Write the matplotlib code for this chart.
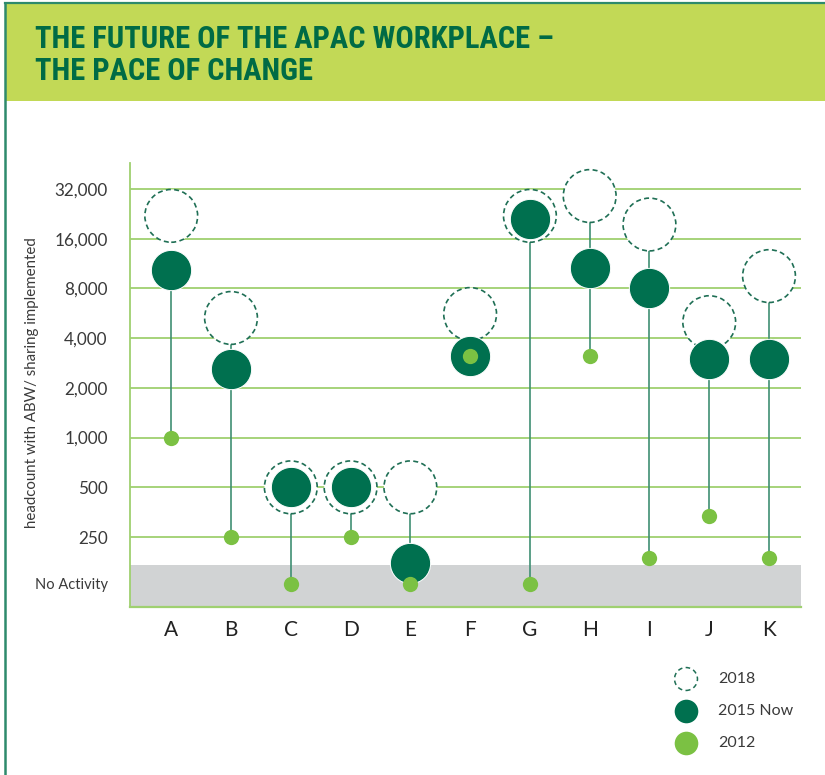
import matplotlib
matplotlib.use("Agg")
import matplotlib.pyplot as plt
from matplotlib.lines import Line2D
from matplotlib.patches import Rectangle
from matplotlib import font_manager
from matplotlib.font_manager import FontProperties

# ---- data ----
categories = ["A", "B", "C", "D", "E", "F", "G", "H", "I", "J", "K"]
# 0 means "No Activity"
values_2018 = [22000, 5300, 500, 500, 500, 5600, 22000, 29000, 19500, 5000, 9500]
values_2015 = [10300, 2600, 500, 500, 175, 3100, 21000, 10600, 8000, 3000, 3000]
values_2012 = [1000, 250, 0, 250, 0, 3100, 0, 3100, 187, 337, 187]
stem_to_2018 = [False, True, True, True, True, True, True, True, True, True, True]
tick_values = [250, 500, 1000, 2000, 4000, 8000, 16000, 32000]
tick_labels = ["250", "500", "1,000", "2,000", "4,000", "8,000", "16,000", "32,000"]
no_activity_label = "No Activity"
y_label = "headcount with ABW/ sharing implemented"
title_lines = ["THE FUTURE OF THE APAC WORKPLACE \u2013", "THE PACE OF CHANGE"]
legend_labels = ["2018", "2015 Now", "2012"]

# ---- style ----
DARK = "#00704f"
LIGHT = "#7bc143"
DASH = "#1f6f55"
GRID = "#9fd070"
HEADER = "#c2d956"
TITLE_C = "#006b45"
TEXT_C = "#3a3a3a"
STEM = "#3f8f73"

NO_ACT = 130.0      # axis position of the "No Activity" row
BAND_TOP = 169.0
Y_BOTTOM = 94.3
Y_TOP = 45960

def pos(v):
    return NO_ACT if v == 0 else v

W, H = 825, 775
fig = plt.figure(figsize=(W / 100, H / 100), dpi=100)

# choose the narrowest upright bold text font among known families for the condensed title
KNOWN = ("DejaVu Sans", "Liberation Sans", "Liberation Sans Narrow", "Noto Sans",
         "Roboto", "Roboto Condensed", "Open Sans", "Lato", "Inter")
def _weight(w):
    if isinstance(w, str):
        return 700 if any(k in w.lower() for k in ("bold", "black", "heavy")) else 400
    return w
cands = [f for f in font_manager.fontManager.ttflist
         if f.name in KNOWN and _weight(f.weight) >= 600 and f.style == "normal"
         and "italic" not in f.fname.lower() and "oblique" not in f.fname.lower()
         and f.fname.lower().endswith((".ttf", ".otf"))]
renderer = fig.canvas.get_renderer()
best_fp, best_w = FontProperties(family="DejaVu Sans", weight="bold", stretch="condensed", size=20), 1e9
for f in cands:
    try:
        fp = FontProperties(fname=f.fname, size=22)
        t = fig.text(0, 0, title_lines[0], fontproperties=fp)
        wpx = t.get_window_extent(renderer).width
        t.remove()
        if 150 < wpx < best_w:
            best_w, best_fp = wpx, fp
    except Exception:
        pass
title_fp = best_fp

# header band and frame lines
fig.patches.append(Rectangle((5 / W, 1 - 101 / H), 1, 97 / H, transform=fig.transFigure,
                             facecolor=HEADER, edgecolor="none", zorder=0))
fig.lines.append(Line2D([5 / W, 1], [1 - 3 / H, 1 - 3 / H], transform=fig.transFigure,
                        color="#2e8a6c", lw=1.6))
fig.lines.append(Line2D([5 / W, 5 / W], [0, 1 - 3 / H], transform=fig.transFigure,
                        color="#2e8a6c", lw=1.8))

for i, t in enumerate(title_lines):
    fig.text(35 / W, 1 - (48 + i * 32) / H, t, color=TITLE_C, fontproperties=title_fp,
             ha="left", va="baseline")

ax = fig.add_axes([130 / W, 1 - 607 / H, (801 - 130) / W, (607 - 163) / H])
ax.set_yscale("log", base=2)
ax.set_ylim(Y_BOTTOM, Y_TOP)
n = len(categories)
xs = list(range(n))
ax.set_xlim(-0.69, n - 1 + 0.535)

# grey band
ax.axhspan(Y_BOTTOM, BAND_TOP, color="#d1d3d4", lw=0, zorder=0)
for v in tick_values:
    ax.axhline(v, color=GRID, lw=1.3, zorder=1)

for s in ["top", "right"]:
    ax.spines[s].set_visible(False)
ax.spines["left"].set_color(GRID)
ax.spines["left"].set_linewidth(1.3)
ax.spines["bottom"].set_color(GRID)
ax.spines["bottom"].set_linewidth(1.6)

# stems
for x, a, b, c, full in zip(xs, values_2018, values_2015, values_2012, stem_to_2018):
    top = pos(a) if full else pos(b)
    ax.plot([x, x], [pos(c), top], color=STEM, lw=1.2, zorder=2)

ax.scatter(xs, [pos(v) for v in values_2018], s=38 ** 2, facecolors="white",
           edgecolors=DASH, linewidths=1.2, linestyles=(0, (3, 2)), zorder=3)
ax.plot(xs, [pos(v) for v in values_2015], ls="none", marker="o", ms=29,
        mfc=DARK, mec="white", mew=0.7, zorder=4)
ax.plot(xs, [pos(v) for v in values_2012], ls="none", marker="o", ms=11,
        mfc=LIGHT, mec="none", zorder=5)

ax.set_yticks([NO_ACT] + tick_values)
ax.set_yticklabels([no_activity_label] + tick_labels)
ax.yaxis.set_minor_locator(matplotlib.ticker.NullLocator())
ax.tick_params(axis="y", length=0, pad=16, labelcolor=TEXT_C)
for k, lab in enumerate(ax.get_yticklabels()):
    lab.set_family("Lato")
    lab.set_fontsize(10.5 if k == 0 else 12.3)
ax.set_xticks(xs)
ax.set_xticklabels(categories)
ax.tick_params(axis="x", length=0, pad=9, labelsize=15, labelcolor="#222222")
for lab in ax.get_xticklabels():
    lab.set_family("Lato")
ax.set_ylabel(y_label, fontsize=10.8, color=TEXT_C, family="Lato")
ax.yaxis.set_label_coords(-91 / 671, (607 - 383) / 444)

# legend (manual)
leg_y = [679, 711, 743]
leg_ax = fig.add_axes([0, 0, 1, 1], facecolor="none")
leg_ax.set_xlim(0, W)
leg_ax.set_ylim(H, 0)
leg_ax.axis("off")
leg_ax.scatter([686], [leg_y[0]], s=16.5 ** 2, facecolors="white", edgecolors=DASH,
               linewidths=1.1, linestyles=(0, (3, 2.2)))
leg_ax.plot([686], [leg_y[1]], marker="o", ms=17, mfc=DARK, mec="none", ls="none")
leg_ax.plot([686], [leg_y[2]], marker="o", ms=17, mfc=LIGHT, mec="none", ls="none")
for yy, t in zip(leg_y, legend_labels):
    leg_ax.text(718, yy, t, fontsize=11.5, color=TEXT_C, family="Lato",
                ha="left", va="center")

fig.savefig("out.png", dpi=100)
